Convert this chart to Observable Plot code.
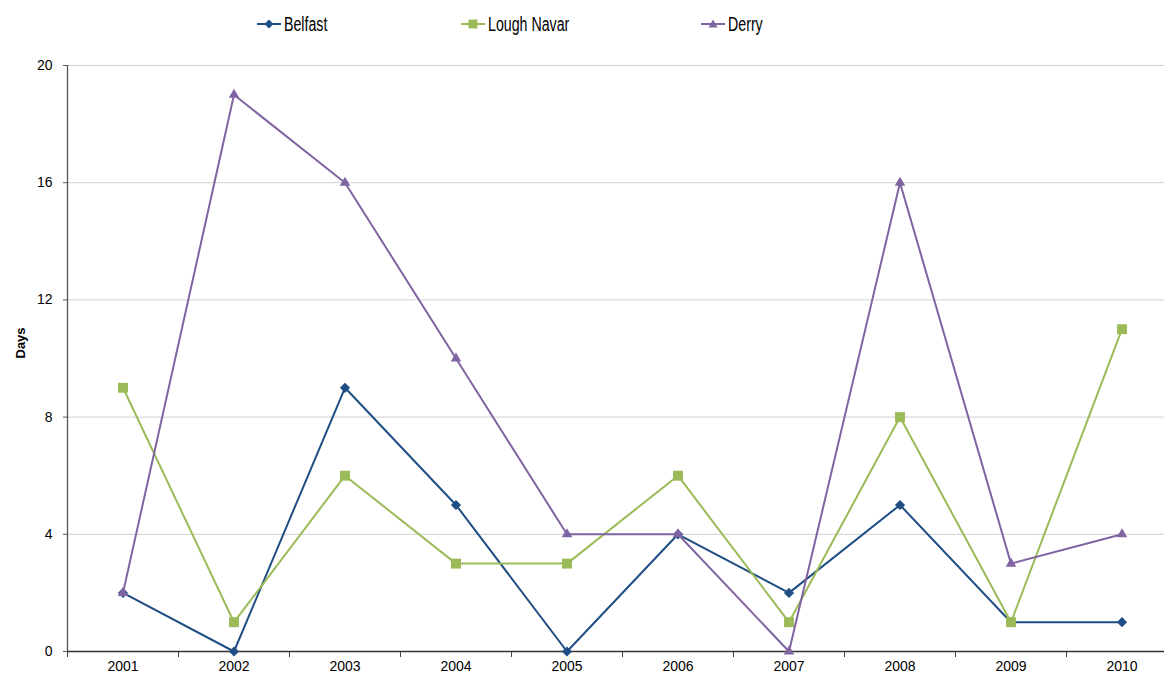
<!DOCTYPE html>
<html>
<head>
<meta charset="utf-8">
<script src="https://cdn.jsdelivr.net/npm/d3@7"></script>
<script src="https://cdn.jsdelivr.net/npm/@observablehq/plot@0.6"></script>
<style>
  html, body { margin: 0; padding: 0; background: #fff; }
  body { width: 1164px; height: 679px; overflow: hidden; font-family: "Liberation Sans", Arial, sans-serif; }
  #legend { position: relative; height: 45px; width: 1164px; }
  .item { position: absolute; top: 14px; display: flex; align-items: center; font-size: 20px; line-height: 20px; color: #000; }
  .item svg { margin-right: 2px; }
  .item span { display: inline-block; transform: scaleX(0.71); transform-origin: left center; }
  #chart svg { display: block; }
</style>
</head>
<body>
<div id="legend"></div>
<div id="chart"></div>
<script>
const years = [2001, 2002, 2003, 2004, 2005, 2006, 2007, 2008, 2009, 2010];
const belfast = [2, 0, 9, 5, 0, 4, 2, 5, 1, 1];
const loughNavar = [9, 1, 6, 3, 3, 6, 1, 8, 1, 11];
const derry = [2, 19, 16, 10, 4, 4, 0, 16, 3, 4];
const seriesNames = ["Belfast", "Lough Navar", "Derry"];
const seriesColors = ["#1F4E84", "#9BBB59", "#8064A2"];
const seriesSymbols = ["diamond2", "square", "triangle"];
const symbolRadius = [4.6, 5.6, 3.9];
const yTicks = [0, 4, 8, 12, 16, 20];

const seriesValues = [belfast, loughNavar, derry];
const bandEdges = years.map(y => y - 0.5).concat([years[years.length - 1] + 0.5]);

// Legend
const legendLeft = [257, 461, 701];
const legend = document.getElementById("legend");
seriesNames.forEach((name, i) => {
  const div = document.createElement("div");
  div.className = "item";
  div.style.left = legendLeft[i] + "px";
  let marker;
  if (i === 0) marker = `<path d="M12,5.5 L16.5,10 L12,14.5 L7.5,10 Z" fill="${seriesColors[i]}"/>`;
  else if (i === 1) marker = `<rect x="7.5" y="5.5" width="9" height="9" fill="${seriesColors[i]}"/>`;
  else marker = `<path d="M12,5.5 L16.5,13.5 L7.5,13.5 Z" fill="${seriesColors[i]}"/>`;
  div.innerHTML = `<svg width="25" height="20"><line x1="0" x2="24" y1="10" y2="10" stroke="${seriesColors[i]}" stroke-width="2"/>${marker}</svg><span>${name}</span>`;
  legend.appendChild(div);
});

const seriesMarks = seriesNames.flatMap((name, i) => {
  const rows = years.map((yr, j) => ({ year: yr, value: seriesValues[i][j] }));
  return [
    Plot.line(rows, { x: "year", y: "value", stroke: seriesColors[i], strokeWidth: 2 }),
    Plot.dot(rows, { x: "year", y: "value", fill: seriesColors[i], symbol: seriesSymbols[i], r: symbolRadius[i], stroke: "none" })
  ];
});

const chart = Plot.plot({
  width: 1164,
  height: 634,
  marginTop: 20,
  marginBottom: 28,
  marginLeft: 67,
  marginRight: 0,
  style: { fontFamily: "Liberation Sans, Arial, sans-serif", fontSize: "14px", color: "#000", overflow: "hidden" },
  x: { type: "linear", domain: [2000.5, 2010.5], range: [67, 1177] },
  y: { domain: [0, 20] },
  marks: [
    Plot.ruleY(yTicks.filter(d => d > 0), { stroke: "#d0d0d0", strokeWidth: 1, x1: 2000.5, x2: 2011 }),
    Plot.axisY({ ticks: yTicks, tickSize: 4, tickPadding: 11, tickFormat: d => d, label: null, stroke: "#555", fontSize: 14 }),
    Plot.axisX({ ticks: bandEdges, tickSize: 6, tickFormat: () => "", label: null, stroke: "#444" }),
    Plot.axisX({ ticks: years, tickSize: 0, tickPadding: 10, tickFormat: d => String(d), label: null, fontSize: 14 }),
    Plot.ruleX([2000.5], { stroke: "#555", strokeWidth: 1.3 }),
    Plot.ruleY([0], { stroke: "#333", strokeWidth: 1.3, x1: 2000.5, x2: 2011 }),
    ...seriesMarks,
    Plot.text(["Days"], { frameAnchor: "left", dx: -47, rotate: -90, fontWeight: "bold", fontSize: 13 })
  ]
});
document.getElementById("chart").appendChild(chart);
</script>
</body>
</html>
